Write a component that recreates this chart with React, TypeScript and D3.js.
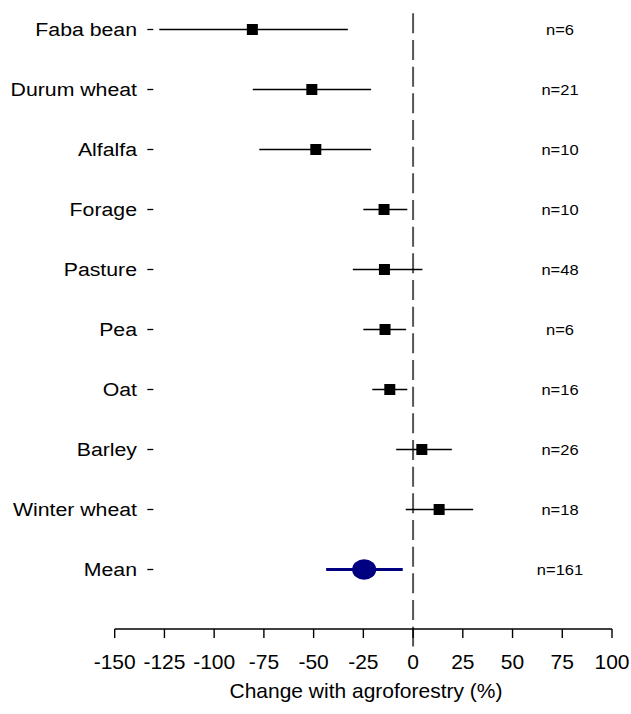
import React from "react";
import * as d3 from "d3";

const categories = ["Faba bean", "Durum wheat", "Alfalfa", "Forage", "Pasture", "Pea", "Oat", "Barley", "Winter wheat", "Mean"];
const estimates = [-80.8, -50.9, -48.9, -14.6, -14.4, -14.1, -11.7, 4.4, 13.1, -24.6];
const lowerCI = [-127.6, -80.6, -77.3, -25, -30.3, -25, -20.5, -8.5, -3.7, -43.7];
const upperCI = [-32.8, -21.1, -21.1, -2.9, 4.7, -3.5, -2.9, 19.5, 30.2, -5.2];
const nLabels = ["n=6", "n=21", "n=10", "n=10", "n=48", "n=6", "n=16", "n=26", "n=18", "n=161"];
const xTicks = [-150, -125, -100, -75, -50, -25, 0, 25, 50, 75, 100];
const xTitle = "Change with agroforestry (%)";

const W = 631;
const H = 714;
const FONT = "'Liberation Sans', Arial, Helvetica, sans-serif";

type TP = { x: number; y: number; anchor: string; size: number; sx: number; children: React.ReactNode };
const T = (p: TP) => (
  <text
    transform={`translate(${p.x},${p.y}) scale(${p.sx},1)`}
    textAnchor={p.anchor}
    dominantBaseline="central"
    fontSize={p.size}
    fontFamily={FONT}
    fill="#000"
  >
    {p.children}
  </text>
);

export default function App() {
  const x = d3.scaleLinear().domain([-150, 100]).range([114.7, 612]);
  const y = d3.scalePoint<string>().domain(categories).range([29.5, 569.5]);
  const axisY = 629;

  return (
    <svg width={W} height={H} style={{ position: "absolute", left: 0, top: 0, background: "#fff" }}>
      <rect width={W} height={H} fill="#fff" />
      {/* zero reference line */}
      <line x1={x(0)} x2={x(0)} y1={13.3} y2={646.5} stroke="#555" strokeWidth={2} strokeDasharray="20 6.67" />

      {categories.map((c, i) => {
        const cy = y(c)!;
        const isMean = c === "Mean";
        return (
          <g key={c}>
            <T x={137} y={cy} anchor="end" size={19} sx={1.12}>{c}</T>
            <line x1={147.3} x2={153.3} y1={cy} y2={cy} stroke="#000" strokeWidth={1.3} />
            <line
              x1={x(lowerCI[i])}
              x2={x(upperCI[i])}
              y1={cy}
              y2={cy}
              stroke={isMean ? "#000080" : "#000"}
              strokeWidth={isMean ? 3 : 1.4}
            />
            {isMean ? (
              <ellipse cx={x(estimates[i])} cy={cy} rx={12} ry={10.2} fill="#000080" />
            ) : (
              <rect x={x(estimates[i]) - 5.5} y={cy - 5.5} width={11} height={11} fill="#000" />
            )}
            <T x={560} y={cy} anchor="middle" size={15} sx={1.1}>{nLabels[i]}</T>
          </g>
        );
      })}

      <line x1={x(-150)} x2={x(100)} y1={axisY} y2={axisY} stroke="#000" strokeWidth={1.4} />
      {xTicks.map((t) => (
        <g key={t}>
          <line x1={x(t)} x2={x(t)} y1={axisY} y2={axisY + 9} stroke="#000" strokeWidth={1.4} />
          <T x={x(t)} y={661.5} anchor="middle" size={20} sx={1.05}>{String(t)}</T>
        </g>
      ))}
      <T x={366} y={691} anchor="middle" size={20} sx={1.05}>{xTitle}</T>
    </svg>
  );
}
